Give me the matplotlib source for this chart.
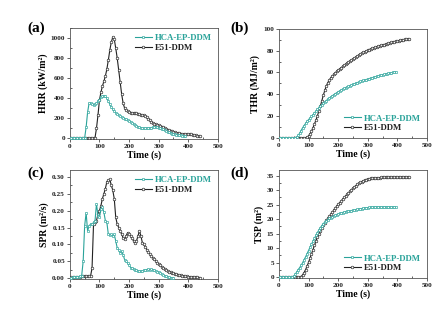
import numpy as np
import matplotlib
matplotlib.use("Agg")
import matplotlib.pyplot as plt
from matplotlib.ticker import MultipleLocator

plt.rcParams['font.family'] = ['Liberation Serif', 'DejaVu Serif']
plt.rcParams['font.weight'] = 'bold'

teal = '#2aa39a'
black = '#222222'
labels = ['HCA-EP-DDM', 'E51-DDM']

# time grids (s), 5 s sampling
t_hca = np.arange(0, 395, 5)        # 0..390
t_e51 = np.arange(0, 445, 5)        # 0..440
t_hca_thr = np.arange(0, 400, 5)    # 0..395
t_hca_spr = np.arange(0, 355, 5)    # 0..350

# (a) HRR (kW/m2)
hrr_hca = [0, 2, 4, 5, 6, 7, 7, 6, 5, 4, 3, 110, 260, 350, 350, 340, 335, 340, 350, 370,
           385, 410, 420, 425, 420, 400, 370, 340, 310, 290, 270, 255, 240, 230, 220, 212,
           205, 197, 190, 182, 175, 165, 155, 145, 135, 125, 115, 108, 103, 100, 98, 98,
           100, 102, 105, 107, 108, 110, 110, 108, 105, 100, 95, 88, 80, 72, 65, 58, 52,
           47, 42, 38, 35, 32, 30, 28, 26, 24, 22]
hrr_e51 = [0, 0, 0, 0, 0, 0, 0, 0, 0, 0, 0, 0, 0, 0, 0, 0, 0, 5, 100, 230,
           380, 460, 520, 570, 620, 690, 780, 880, 960, 1010, 990, 900, 800, 680, 560, 440,
           350, 300, 280, 268, 260, 255, 252, 250, 250, 248, 245, 240, 235, 232, 228, 222,
           210, 195, 180, 165, 155, 145, 138, 132, 128, 122, 115, 108, 100, 93, 87, 80, 75,
           70, 65, 60, 57, 53, 50, 47, 45, 43, 42, 41, 40, 39, 38, 36, 34, 30, 26, 22, 18]

# (b) THR (MJ/m2)
thr_hca = [0, 0, 0, 0, 0, 0, 0, 0, 0, 0, 0, 0, 0.5, 2, 4, 6.5, 9, 11, 13, 15,
           16.5, 18, 19.5, 21, 22.7, 24.3, 26, 27.5, 29, 30.3, 31.6, 32.9, 34.1, 35.3, 36.4,
           37.5, 38.5, 39.5, 40.4, 41.3, 42.2, 43, 43.8, 44.6, 45.3, 46, 46.7, 47.3, 47.9,
           48.5, 49.1, 49.6, 50.2, 50.7, 51.2, 51.7, 52.2, 52.6, 53.1, 53.5, 54, 54.4, 54.8,
           55.2, 55.6, 56, 56.4, 56.8, 57.2, 57.5, 57.9, 58.2, 58.6, 58.9, 59.2, 59.5, 59.8,
           60.1, 60.3, 60.5]
thr_e51 = [0, 0, 0, 0, 0, 0, 0, 0, 0, 0, 0, 0, 0, 0, 0, 0, 0, 0, 0, 0.3,
           1.5, 3.5, 6, 9, 12.5, 16, 20, 24.5, 29, 34, 39, 43.5, 47.5, 50.5, 53, 55, 56.7,
           58.2, 59.6, 61, 62.2, 63.3, 64.4, 65.5, 66.5, 67.5, 68.5, 69.5, 70.5, 71.5, 72.5,
           73.4, 74.3, 75.2, 76.1, 77, 77.8, 78.5, 79.2, 79.9, 80.5, 81.1, 81.7, 82.2, 82.7,
           83.2, 83.7, 84.1, 84.5, 84.9, 85.3, 85.7, 86.1, 86.5, 86.9, 87.3, 87.7, 88.1,
           88.5, 88.8, 89.1, 89.4, 89.7, 90, 90.2, 90.4, 90.6, 90.8, 91]

# (c) SPR (m2/s)
spr_hca = [0.0, 0.002, 0.003, 0.004, 0.004, 0.005, 0.005, 0.006, 0.008, 0.05, 0.155, 0.193,
           0.14, 0.155, 0.16, 0.16, 0.165, 0.17, 0.22, 0.185, 0.18, 0.205, 0.21, 0.195, 0.17,
           0.165, 0.13, 0.128, 0.13, 0.125, 0.13, 0.11, 0.09, 0.085, 0.075, 0.08, 0.07, 0.055,
           0.05, 0.045, 0.04, 0.032, 0.03, 0.028, 0.026, 0.024, 0.022, 0.021, 0.021, 0.022,
           0.024, 0.025, 0.026, 0.027, 0.026, 0.027, 0.025, 0.024, 0.022, 0.02, 0.018, 0.016,
           0.013, 0.01, 0.008, 0.006, 0.005, 0.003, 0.002, 0.001, 0.0]
spr_e51 = [0.002, 0.003, 0.003, 0.004, 0.004, 0.005, 0.005, 0.005, 0.006, 0.006, 0.006,
           0.006, 0.006, 0.006, 0.007, 0.03, 0.16, 0.165, 0.17, 0.19, 0.2, 0.215, 0.235, 0.25,
           0.265, 0.285, 0.29, 0.292, 0.275, 0.26, 0.235, 0.18, 0.16, 0.15, 0.14, 0.13, 0.12,
           0.115, 0.125, 0.135, 0.132, 0.125, 0.12, 0.11, 0.105, 0.11, 0.125, 0.14, 0.125,
           0.105, 0.1, 0.092, 0.085, 0.078, 0.072, 0.066, 0.061, 0.056, 0.051, 0.046, 0.042,
           0.038, 0.034, 0.03, 0.027, 0.024, 0.022, 0.02, 0.018, 0.016, 0.015, 0.013, 0.012,
           0.011, 0.01, 0.009, 0.008, 0.007, 0.006, 0.006, 0.005, 0.005, 0.004, 0.004, 0.003,
           0.003, 0.003, 0.002, 0.002]

# (d) TSP (m2)
tsp_hca = [0, 0, 0, 0, 0, 0, 0, 0, 0, 0, 0.3, 1, 1.8, 2.6, 3.3, 4.1, 5, 6, 7, 8.1, 9.2,
           10.3, 11.4, 12.4, 13.4, 14.4, 15.4, 16.3, 17.1, 17.8, 18.5, 19, 19.5, 19.9, 20.3,
           20.6, 20.9, 21.2, 21.4, 21.6, 21.8, 22, 22.2, 22.3, 22.5, 22.6, 22.7, 22.8, 22.9,
           23, 23.1, 23.2, 23.3, 23.4, 23.5, 23.6, 23.7, 23.8, 23.9, 23.95, 24, 24.05, 24.1,
           24.1, 24.15, 24.2, 24.2, 24.2, 24.2, 24.2, 24.2, 24.2, 24.2, 24.2, 24.2, 24.2,
           24.2, 24.2, 24.2, 24.2]
tsp_e51 = [0, 0, 0, 0, 0, 0, 0, 0, 0, 0, 0, 0, 0, 0, 0, 0.2, 0.8, 1.6, 2.6, 3.8, 5.1, 6.6,
           8, 9.5, 11, 12.4, 13.8, 15, 16, 17, 17.9, 18.8, 19.6, 20.3, 21, 21.7, 22.4, 23.1,
           23.8, 24.5, 25.1, 25.7, 26.3, 26.9, 27.5, 28, 28.6, 29.1, 29.7, 30.2, 30.7, 31.2,
           31.6, 32, 32.4, 32.7, 33, 33.3, 33.5, 33.7, 33.9, 34, 34.1, 34.2, 34.25, 34.3, 34.3,
           34.35, 34.35, 34.4, 34.4, 34.4, 34.4, 34.45, 34.45, 34.45, 34.45, 34.5, 34.5, 34.5,
           34.5, 34.5, 34.5, 34.5, 34.5, 34.5, 34.5, 34.5, 34.5]

fig = plt.figure(figsize=(4.42, 3.09), dpi=100)

W = 0.335
axa = fig.add_axes([0.158, 0.550, W, 0.359])
axb = fig.add_axes([0.631, 0.553, W, 0.353])
axc = fig.add_axes([0.158, 0.097, W, 0.353])
axd = fig.add_axes([0.631, 0.100, W, 0.350])

panels = [
    (axa, '(a)', (0.081, 0.930), 'HRR (kW/m²)', (t_hca, hrr_hca), (t_e51, hrr_e51), (-8, 1100), 200, '{:.0f}', 'upper right'),
    (axb, '(b)', (0.543, 0.930), 'THR (MJ/m²)', (t_hca_thr, thr_hca), (t_e51, thr_e51), (-0.5, 100), 20, '{:.0f}', 'lower right'),
    (axc, '(c)', (0.081, 0.462), 'SPR (m²/s)', (t_hca_spr, spr_hca), (t_e51, spr_e51), (-0.002, 0.32), 0.05, '{:.2f}', 'upper right'),
    (axd, '(d)', (0.543, 0.462), 'TSP (m²)', (t_hca_thr, tsp_hca), (t_e51, tsp_e51), (-0.3, 37), 5, '{:.0f}', 'lower right'),
]

for ax, tag, tagpos, ylab, s1, s2, ylim, ystep, fmt, loc in panels:
    ax.plot(s2[0], s2[1], color=black, lw=0.8, marker='o', ms=1.9, mfc='white',
            mec=black, mew=0.45, label=labels[1], zorder=3)
    ax.plot(s1[0], s1[1], color=teal, lw=0.8, marker='s', ms=1.7, mfc='white',
            mec=teal, mew=0.45, label=labels[0], zorder=4)
    ax.set_xlim(0, 500)
    ax.set_ylim(*ylim)
    ax.xaxis.set_major_locator(MultipleLocator(100))
    ax.xaxis.set_minor_locator(MultipleLocator(50))
    ax.yaxis.set_minor_locator(MultipleLocator(ystep / 2))
    yt = np.arange(0, ylim[1] + 1e-9, ystep)
    ax.set_yticks(yt)
    ax.set_yticklabels([fmt.format(v) for v in yt])
    ax.tick_params(which='both', labelsize=5.2, width=0.5, pad=1.5, colors='#222222')
    ax.tick_params(which='major', direction='out', length=2)
    ax.tick_params(which='minor', direction='in', length=1.5)
    for lab in ax.get_xticklabels() + ax.get_yticklabels():
        lab.set_fontweight('bold')
    for sp in ax.spines.values():
        sp.set_linewidth(0.6)
        sp.set_color('#555555')
    ax.set_xlabel('Time (s)', fontsize=7, fontweight='bold', labelpad=1)
    ax.set_ylabel(ylab, fontsize=7, fontweight='bold', labelpad=2)
    h, l = ax.get_legend_handles_labels()
    leg = ax.legend([h[1], h[0]], [l[1], l[0]], loc=loc, frameon=False,
                    handlelength=2.0, handletextpad=0.3, labelspacing=0.15,
                    borderaxespad=0.3, prop={'weight': 'bold', 'size': 6.3})
    for txt, c in zip(leg.get_texts(), [teal, black]):
        txt.set_color(c)
    fig.text(tagpos[0], tagpos[1], tag, fontsize=11, fontweight='bold',
             ha='center', va='top')

fig.savefig('out.png', dpi=100)
